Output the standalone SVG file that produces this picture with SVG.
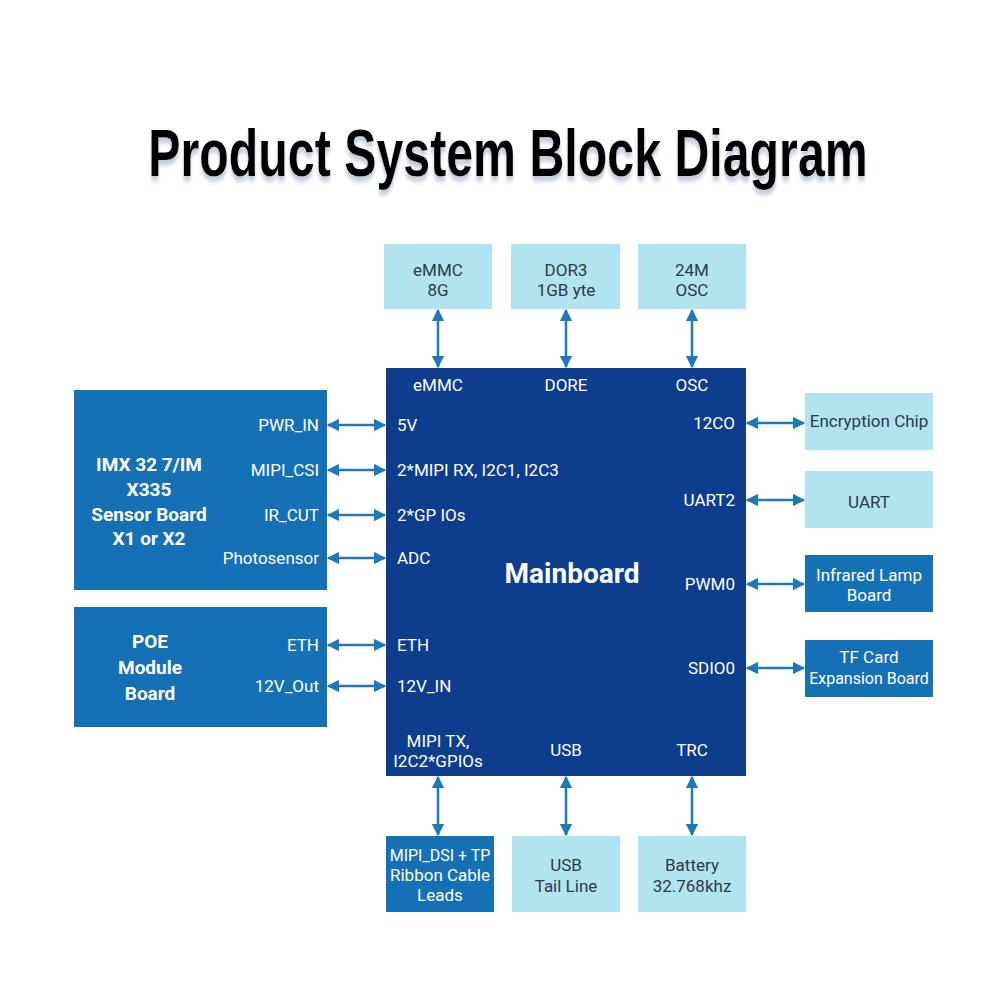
<svg xmlns="http://www.w3.org/2000/svg" width="1000" height="1000" viewBox="0 0 1000 1000">
<defs>
<style>
text{font-family:Roboto,"Liberation Sans",sans-serif;}
.title{font-family:"Liberation Sans",Roboto,sans-serif;font-weight:bold;font-size:66px;fill:#000;}
.light{fill:#b1e3f0;}
.mid{fill:#1570b5;}
.main{fill:#0e3d8d;}
.dt{fill:#2e3a48;font-size:17px;text-anchor:middle;}
.wt{fill:#fff;font-size:17px;text-anchor:middle;}
.wl{fill:#fff;font-size:17px;}
.wr{fill:#fff;font-size:17px;text-anchor:end;}
.wb{fill:#fff;font-size:19px;font-weight:bold;text-anchor:middle;}
.sm{font-size:16px;}
.conn line{stroke:#1f78b8;stroke-width:2.5;marker-start:url(#ah);marker-end:url(#ah);}
</style>
<marker id="ah" viewBox="0 0 10 10" refX="9" refY="5" markerWidth="5" markerHeight="5" orient="auto-start-reverse" markerUnits="strokeWidth">
<path d="M0,0 L10,5 L0,10 z" fill="#1f78b8"/>
</marker>
<filter id="sh" x="-10%" y="-40%" width="120%" height="200%">
<feDropShadow dx="0" dy="5" stdDeviation="2.5" flood-color="#9fb0c4" flood-opacity="0.7"/>
</filter>
</defs>
<rect width="1000" height="1000" fill="#fff"/>
<g transform="translate(508,176) scale(0.732,1)">
<text class="title" x="0" y="0" text-anchor="middle" filter="url(#sh)">Product System Block Diagram</text>
</g>

<g id="emmc"><rect class="light" x="384" y="244" width="108" height="65"/><text class="dt" x="438" y="276">eMMC</text><text class="dt" x="438" y="296">8G</text></g>
<g id="ddr3"><rect class="light" x="511" y="244" width="109" height="65"/><text class="dt" x="566" y="276">DOR3</text><text class="dt" x="566" y="296">1GB yte</text></g>
<g id="osc"><rect class="light" x="638" y="244" width="108" height="65"/><text class="dt" x="692" y="276">24M</text><text class="dt" x="692" y="296">OSC</text></g>

<g id="mainboard">
<rect class="main" x="386" y="368" width="360" height="408"/>
<text class="wt" x="438" y="391">eMMC</text>
<text class="wt" x="566" y="391">DORE</text>
<text class="wt" x="692" y="391">OSC</text>
<text class="wl" x="397" y="431">5V</text>
<text class="wl" x="397" y="476">2*MIPI RX, I2C1, I2C3</text>
<text class="wl" x="397" y="521">2*GP IOs</text>
<text class="wl" x="397" y="564">ADC</text>
<text class="wl" x="397" y="651">ETH</text>
<text class="wl" x="397" y="692">12V_IN</text>
<text class="wr" x="735" y="429">12CO</text>
<text class="wr" x="735" y="506">UART2</text>
<text class="wr" x="735" y="590">PWM0</text>
<text class="wr" x="735" y="674">SDIO0</text>
<text x="572" y="583" fill="#fff" font-size="28" font-weight="bold" text-anchor="middle">Mainboard</text>
<text class="wt" x="438" y="747">MIPI TX,</text>
<text class="wt" x="438" y="767">I2C2*GPIOs</text>
<text class="wt" x="566" y="756">USB</text>
<text class="wt" x="692" y="756">TRC</text>
</g>

<g id="sensor">
<rect class="mid" x="74" y="390" width="253" height="200"/>
<text class="wb" x="149" y="471">IMX 32 7/IM</text>
<text class="wb" x="149" y="496">X335</text>
<text class="wb" x="149" y="521">Sensor Board</text>
<text class="wb" x="149" y="545">X1 or X2</text>
<text class="wr" x="319" y="431">PWR_IN</text>
<text class="wr" x="319" y="476">MIPI_CSI</text>
<text class="wr" x="319" y="521">IR_CUT</text>
<text class="wr" x="319" y="564">Photosensor</text>
</g>

<g id="poe">
<rect class="mid" x="74" y="607" width="253" height="120"/>
<text class="wb" x="150" y="648">POE</text>
<text class="wb" x="150" y="674">Module</text>
<text class="wb" x="150" y="700">Board</text>
<text class="wr" x="319" y="651">ETH</text>
<text class="wr" x="319" y="692">12V_Out</text>
</g>

<g id="encryption"><rect class="light" x="805" y="393" width="128" height="57"/><text class="dt" x="869" y="427">Encryption Chip</text></g>
<g id="uart"><rect class="light" x="805" y="471" width="128" height="57"/><text class="dt" x="869" y="508">UART</text></g>
<g id="infrared"><rect class="mid" x="805" y="555" width="128" height="57"/><text class="wt" x="869" y="581">Infrared Lamp</text><text class="wt" x="869" y="601">Board</text></g>
<g id="tfcard"><rect class="mid" x="805" y="640" width="128" height="57"/><text class="wt" x="869" y="663">TF Card</text><text class="wt sm" x="869" y="684">Expansion Board</text></g>

<g id="mipidsi"><rect class="mid" x="386" y="836" width="108" height="76"/><text class="wt sm" x="440" y="861">MIPI_DSI + TP</text><text class="wt" x="440" y="881">Ribbon Cable</text><text class="wt" x="440" y="901">Leads</text></g>
<g id="usb"><rect class="light" x="512" y="836" width="108" height="76"/><text class="dt" x="566" y="871">USB</text><text class="dt" x="566" y="892">Tail Line</text></g>
<g id="battery"><rect class="light" x="638" y="836" width="108" height="76"/><text class="dt" x="692" y="871">Battery</text><text class="dt" x="692" y="892">32.768khz</text></g>

<g id="connectors" class="conn">
<line x1="438" y1="310" x2="438" y2="367"/>
<line x1="566" y1="310" x2="566" y2="367"/>
<line x1="692" y1="310" x2="692" y2="367"/>
<line x1="438" y1="777" x2="438" y2="835"/>
<line x1="566" y1="777" x2="566" y2="835"/>
<line x1="692" y1="777" x2="692" y2="835"/>
<line x1="328" y1="425" x2="385" y2="425"/>
<line x1="328" y1="470" x2="385" y2="470"/>
<line x1="328" y1="515" x2="385" y2="515"/>
<line x1="328" y1="558" x2="385" y2="558"/>
<line x1="328" y1="645" x2="385" y2="645"/>
<line x1="328" y1="686" x2="385" y2="686"/>
<line x1="747" y1="423" x2="804" y2="423"/>
<line x1="747" y1="500" x2="804" y2="500"/>
<line x1="747" y1="584" x2="804" y2="584"/>
<line x1="747" y1="668" x2="804" y2="668"/>
</g>
</svg>
